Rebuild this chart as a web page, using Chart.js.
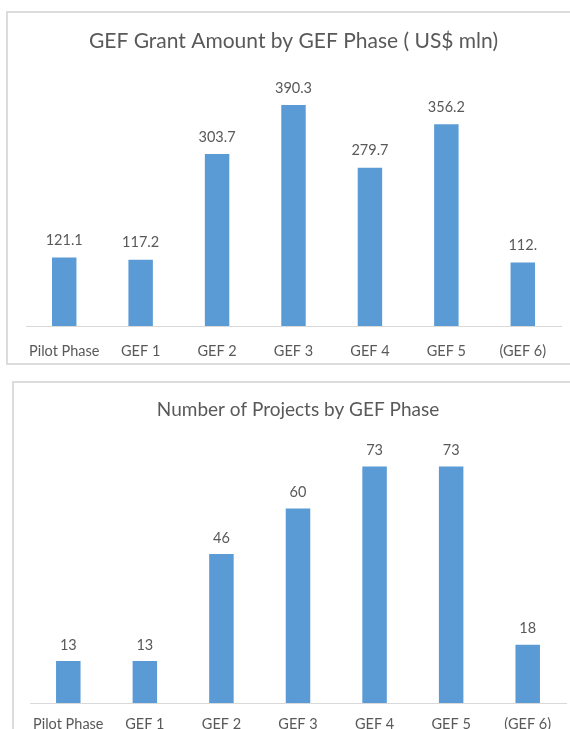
<!DOCTYPE html>
<html>
<head>
<meta charset="utf-8">
<script src="https://cdn.jsdelivr.net/npm/chart.js@4.4.0/dist/chart.umd.min.js"></script>
<style>
  body { margin: 0; background: #fff; overflow: hidden; }
  .box { position: absolute; border: 2px solid #dcdcdc; background: #fff; }
  .box canvas { display: block; }
  #box1 { left: 6px; top: 11px; width: 578px; height: 350px; }
  #box2 { left: 12px; top: 381px; width: 578px; height: 352px; }
</style>
</head>
<body>
<div class="box" id="box1"><canvas id="grantChart" width="578" height="350"></canvas></div>
<div class="box" id="box2"><canvas id="projChart" width="578" height="352"></canvas></div>
<script>
// categorias (fases do GEF)
const phases = ['Pilot Phase', 'GEF 1', 'GEF 2', 'GEF 3', 'GEF 4', 'GEF 5', '(GEF 6)'];

// montante de doações, US$ mln
const grantValues = [121.1, 117.2, 303.7, 390.3, 279.7, 356.2, 112];
const grantLabels = ['121.1', '117.2', '303.7', '390.3', '279.7', '356.2', '112.'];

// número de projetos
const projectValues = [13, 13, 46, 60, 73, 73, 18];
const projectLabels = ['13', '13', '46', '60', '73', '73', '18'];

const barColor = '#5b9bd5';
const textColor = '#595959';
const fontFamily = 'Lato, "Open Sans", sans-serif';

// plugin simples para escrever os valores acima das barras
const valueLabels = {
    id: 'valueLabels',
    afterDatasetsDraw(chart, args, opts) {
        const ctx = chart.ctx;
        const meta = chart.getDatasetMeta(0);
        ctx.save();
        ctx.fillStyle = textColor;
        ctx.font = `${opts.size}px ${fontFamily}`;
        ctx.textAlign = 'center';
        ctx.textBaseline = 'middle';
        meta.data.forEach((bar, i) => {
            ctx.fillText(opts.labels[i], bar.x, bar.y - opts.gap);
        });
        ctx.restore();
    }
};

function makeChart(id, title, values, labels, cfg) {
    const ctx = document.getElementById(id).getContext('2d');
    return new Chart(ctx, {
        type: 'bar',
        data: {
            labels: phases,
            datasets: [{
                data: values,
                backgroundColor: barColor,
                categoryPercentage: 1,
                barPercentage: 0.32
            }]
        },
        options: {
            responsive: false,
            animation: false,
            layout: { padding: cfg.padding },
            scales: {
                y: { display: false, min: 0, max: cfg.max },
                x: {
                    grid: { display: false, drawTicks: false },
                    border: { color: '#d9d9d9', width: 1 },
                    ticks: {
                        color: textColor,
                        padding: cfg.tickPad,
                        font: { family: fontFamily, size: 14.5 },
                        maxRotation: 0,
                        autoSkip: false
                    },
                    // altura fixa do eixo x
                    afterFit: (scale) => { scale.height = cfg.axisH; }
                }
            },
            plugins: {
                legend: { display: false },
                tooltip: { enabled: false },
                title: {
                    display: true,
                    text: title,
                    color: textColor,
                    font: { family: fontFamily, size: cfg.titleSize, weight: 'normal' },
                    padding: cfg.titlePad
                },
                valueLabels: { labels: labels, size: 14.5, gap: cfg.gap }
            }
        },
        plugins: [valueLabels]
    });
}

makeChart('grantChart', 'GEF Grant Amount by GEF Phase ( US$ mln)', grantValues, grantLabels, {
    max: 450,
    titleSize: 21,
    titlePad: { top: 16, bottom: 17 },
    tickPad: 17,
    axisH: 37,
    gap: 17,
    padding: { left: 18, right: 25, bottom: 0 }
});

makeChart('projChart', 'Number of Projects by GEF Phase', projectValues, projectLabels, {
    max: 80,
    titleSize: 19,
    titlePad: { top: 15, bottom: 23 },
    tickPad: 13,
    axisH: 32,
    gap: 16,
    padding: { left: 16, right: 26, bottom: 0 }
});
</script>
</body>
</html>
